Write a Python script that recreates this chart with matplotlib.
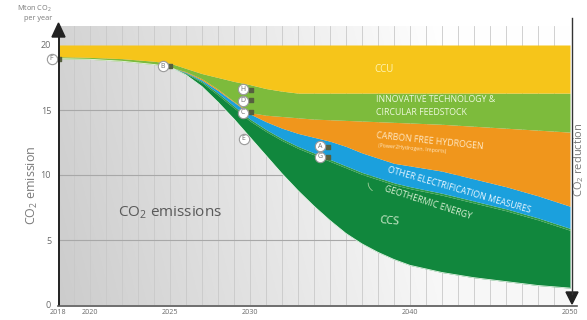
import numpy as np
import matplotlib
matplotlib.use("Agg")
import matplotlib.pyplot as plt
from matplotlib.lines import Line2D
from matplotlib.patches import Polygon

# ---- data (Mton CO2 per year) ----
years = [2018, 2020, 2022, 2024, 2025, 2026, 2027, 2028, 2029, 2030, 2031, 2032, 2033,
         2034, 2035, 2036, 2037, 2038, 2039, 2040, 2042, 2044, 2046, 2048, 2050]

# remaining emissions = lower edge of the CCS band
emissions = [18.95, 18.9, 18.75, 18.5, 18.3, 17.7, 16.8, 15.6, 14.3, 12.9, 11.5, 10.1, 8.8,
             7.6, 6.5, 5.5, 4.7, 4.05, 3.5, 3.05, 2.5, 2.1, 1.8, 1.5, 1.3]
ccs_top = [18.95, 18.9, 18.75, 18.5, 18.3, 17.8, 17.1, 16.15, 15.15, 14.15, 13.35, 12.65, 12.05,
           11.55, 11.05, 10.55, 10.05, 9.65, 9.25, 8.95, 8.45, 7.85, 7.25, 6.55, 5.75]
geo_top = [18.95, 18.9, 18.75, 18.5, 18.3, 17.85, 17.2, 16.3, 15.3, 14.3, 13.5, 12.8, 12.2,
           11.7, 11.2, 10.7, 10.2, 9.8, 9.4, 9.1, 8.6, 8.0, 7.4, 6.7, 5.9]
elec_top = [18.95, 18.9, 18.75, 18.5, 18.3, 17.9, 17.3, 16.5, 15.6, 14.7, 14.1, 13.6, 13.2,
            12.9, 12.6, 12.2, 11.7, 11.3, 10.9, 10.7, 10.3, 9.7, 9.1, 8.4, 7.6]
h2_top = [18.95, 18.9, 18.75, 18.5, 18.3, 17.95, 17.4, 16.6, 15.65, 14.8, 14.6, 14.5, 14.4,
          14.3, 14.25, 14.2, 14.15, 14.1, 14.05, 14.0, 13.9, 13.75, 13.6, 13.45, 13.3]
innov_top = [19.1, 19.05, 18.95, 18.75, 18.6, 18.2, 17.8, 17.5, 17.2, 16.95, 16.65, 16.45, 16.3,
             16.3, 16.3, 16.3, 16.3, 16.3, 16.3, 16.3, 16.3, 16.3, 16.3, 16.3, 16.3]
ccu_top = [20.0] * len(years)

x_ticks = [2018, 2020, 2025, 2030, 2040, 2050]
y_ticks = [0, 5, 10, 15, 20]

# point markers: letter, circle position, square position
points = [
    ("F", (2017.6, 18.95), (2018.05, 18.95)),
    ("B", (2024.55, 18.35), (2025.0, 18.35)),
    ("H", (2029.55, 16.6), (2030.05, 16.55)),
    ("D", (2029.55, 15.7), (2030.05, 15.75)),
    ("C", (2029.55, 14.8), (2030.05, 14.85)),
    ("E", (2029.6, 12.8), None),
    ("A", (2034.4, 12.2), (2034.85, 12.15)),
    ("G", (2034.4, 11.4), (2034.85, 11.4)),
]

FONT = ["Open Sans", "DejaVu Sans"]
plt.rcParams["font.family"] = FONT
plt.rcParams["mathtext.fontset"] = "custom"
plt.rcParams["mathtext.rm"] = "Open Sans"
plt.rcParams["mathtext.it"] = "Open Sans:italic"
plt.rcParams["mathtext.bf"] = "Open Sans:bold"

W, H = 587, 320
fig = plt.figure(figsize=(W / 100, H / 100), dpi=100)
fig.patch.set_facecolor("white")


def px(x, y):
    return (x / W, 1 - y / H)


ax_l, ax_r, ax_b, ax_t = 58, 570, 305, 25.5
ax = fig.add_axes([ax_l / W, 1 - ax_b / H, (ax_r - ax_l) / W, (ax_b - ax_t) / H])
ax.set_xlim(2018, 2050)
ax.set_ylim(0, 21.5)

# grey background gradient, darker on the left
gx = np.linspace(0, 1, 300)
gy = np.linspace(0, 1, 100)
GX, GY = np.meshgrid(gx, gy)
shade = 0.80 + 0.17 * np.clip(GX / 0.75, 0, 1) + 0.03 * (1 - GY)
shade = np.clip(shade, 0, 1)
ax.imshow(np.dstack([shade] * 3), extent=(2018, 2050, 0, 21.5), aspect="auto",
          origin="upper", zorder=0)

# grid: yearly verticals, horizontals every 5
for yr in range(2019, 2051):
    ax.axvline(yr, color="#c9c9c9", lw=0.6, zorder=1)
for yv in [5, 10, 15]:
    ax.axhline(yv, color="#a8a8a8", lw=0.8, zorder=1)

# stacked bands
bands = [
    (emissions, ccs_top, "#11873d"),
    (ccs_top, geo_top, "#2f9b45"),
    (geo_top, elec_top, "#1ba0dd"),
    (elec_top, h2_top, "#f0961c"),
    (h2_top, innov_top, "#7dbb3c"),
    (innov_top, ccu_top, "#f6c51a"),
]
for lo, hi, col in bands:
    ax.fill_between(years, lo, hi, color=col, lw=0, zorder=2)
ax.plot(years, emissions, color="#e8f6e8", lw=0.6, zorder=3)

for s in ax.spines.values():
    s.set_visible(False)
ax.set_xticks(x_ticks)
ax.set_xticklabels([str(t) for t in x_ticks], fontsize=5.2, color="#6a6a6a")
ax.set_yticks(y_ticks)
ax.set_yticklabels([str(t) for t in y_ticks], fontsize=6.5, color="#6a6a6a")
ax.tick_params(length=0, pad=5)
ax.tick_params(axis="x", pad=3)

# band labels
ax.text(2038.4, 18.15, "CCU", fontsize=7, color="#fff4b5", ha="center", va="center", zorder=5)
ax.text(2037.9, 15.8, "INNOVATIVE TECHNOLOGY &", fontsize=6.3, color="#eef8dd",
        ha="left", va="center", zorder=5)
ax.text(2037.9, 14.8, "CIRCULAR FEEDSTOCK", fontsize=6.3, color="#eef8dd",
        ha="left", va="center", zorder=5)
ax.text(2037.9, 13.05, "CARBON FREE HYDROGEN", fontsize=6.3, color="#ffe9c6",
        ha="left", va="center", rotation=-6, rotation_mode="anchor", zorder=5)
ax.text(2038.0, 12.25, "(Power2Hydrogen, Imports)", fontsize=3.8, color="#ffe9c6",
        ha="left", va="center", rotation=-5, rotation_mode="anchor", zorder=5)
ax.text(2043.1, 8.85, "OTHER ELECTRIFICATION MEASURES", fontsize=6.3, color="#eaf7ff",
        ha="center", va="center", rotation=-16, rotation_mode="anchor", zorder=5)
ax.text(2041.1, 7.85, "GEOTHERMIC ENERGY", fontsize=6.3, color="#d9f0d4",
        ha="center", va="center", rotation=-18, rotation_mode="anchor", zorder=5)
ax.text(2038.7, 6.45, "CCS", fontsize=8, color="#d9f0d4",
        ha="center", va="center", rotation=-5, zorder=5)
ax.text(2025.0, 7.1, "CO$_2$ emissions", fontsize=11, color="#5a5a5a",
        ha="center", va="center", zorder=5)

# leader for the geothermic band
ax.annotate("", xy=(2037.8, 8.7), xytext=(2037.4, 9.6),
            arrowprops=dict(arrowstyle="-", color="#9fcf9a", lw=0.6,
                            connectionstyle="arc3,rad=0.4"), zorder=5)

# lettered markers
for letter, cpos, spos in points:
    if spos is not None:
        ax.scatter([spos[0]], [spos[1]], marker="s", s=5, color="#56603f",
                   zorder=6, clip_on=False)
    ax.scatter([cpos[0]], [cpos[1]], s=55, facecolor="white", edgecolor="#9a9a9a",
               lw=0.8, zorder=7, clip_on=False)
    ax.text(cpos[0], cpos[1], letter, fontsize=5, color="#707070", ha="center",
            va="center", zorder=8, clip_on=False)

# axis lines with arrow heads
fig.add_artist(Line2D([px(58.5, 0)[0]] * 2, [px(0, 305)[1], px(0, 34)[1]],
                      color="#222222", lw=1.4))
fig.add_artist(Polygon([px(52, 37), px(65, 37), px(58.5, 23)], closed=True,
                       color="#222222", transform=fig.transFigure))
fig.add_artist(Line2D([px(572, 0)[0]] * 2, [px(0, 18)[1], px(0, 294)[1]],
                      color="#333333", lw=1.0))
fig.add_artist(Polygon([px(566, 292), px(578, 292), px(572, 304)], closed=True,
                       color="#222222", transform=fig.transFigure))
fig.add_artist(Line2D([px(58, 0)[0], px(577, 0)[0]], [px(0, 305.5)[1]] * 2,
                      color="#555555", lw=1.2))

# axis titles
fig.text(*px(52, 9), "Mton CO$_2$", fontsize=5.2, color="#7a7a7a", ha="right", va="center")
fig.text(*px(52, 18), "per year", fontsize=5.2, color="#7a7a7a", ha="right", va="center")
fig.text(*px(32, 185), "CO$_2$ emission", fontsize=9, color="#7a7a7a",
         rotation=90, ha="center", va="center")
fig.text(*px(579, 160), "CO$_2$ reduction", fontsize=8, color="#7a7a7a",
         rotation=90, ha="center", va="center")

fig.savefig("out.png", dpi=100)
